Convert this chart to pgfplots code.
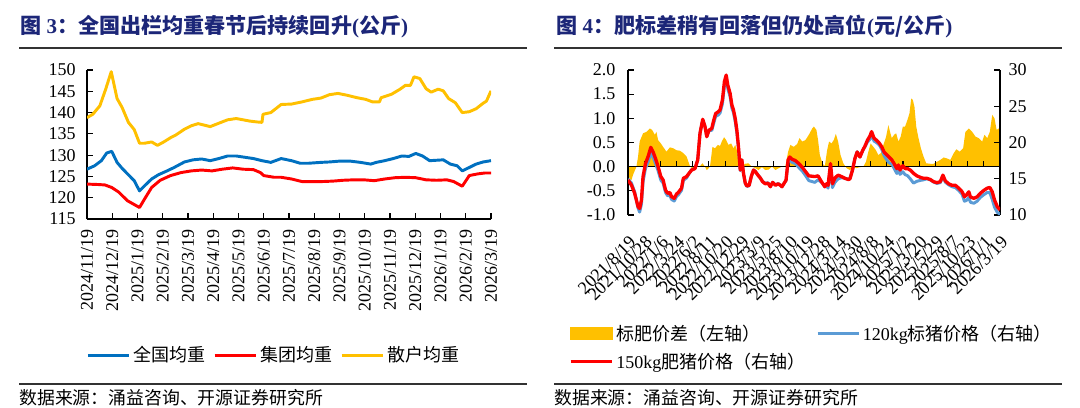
\documentclass[border=0pt]{standalone}
\usepackage{fontspec}
\setmainfont{Liberation Serif}
\newfontfamily\cjk{Noto Sans CJK SC}
\usepackage{pgfplots}
\usepackage{pgfplotstable}
\pgfplotsset{compat=1.18}
\definecolor{ttl}{RGB}{28,38,120}
\definecolor{cblue}{RGB}{0,112,192}
\definecolor{cred}{RGB}{255,0,0}
\definecolor{cyel}{RGB}{255,192,0}
\definecolor{lblue}{RGB}{91,155,213}
\definecolor{rulec}{RGB}{50,50,50}

% ---------- left chart data (x in months from 2024/11/19) ----------
\pgfplotstableread{
x y
0 138.8
0.23 139.6
0.51 141.6
0.74 145.5
0.96 149.6
1.19 143.3
1.39 141.2
1.64 137.7
1.87 136.0
2.08 132.8
2.28 132.8
2.56 133.1
2.79 132.3
3.04 133.1
3.31 134.1
3.51 134.7
3.86 136.1
4.13 136.9
4.40 137.4
4.68 137.0
4.88 136.7
5.22 137.5
5.57 138.3
5.91 138.6
6.18 138.3
6.45 138.0
6.73 137.8
6.93 137.7
6.97 139.6
7.28 140.0
7.69 141.9
8.10 142.0
8.51 142.5
8.92 143.1
9.26 143.4
9.60 144.2
9.94 144.5
10.28 144.1
10.69 143.5
11.04 143.1
11.31 142.5
11.58 142.5
11.65 143.5
12.06 144.3
12.40 145.5
12.61 146.4
12.81 146.4
12.95 148.4
13.18 148.0
13.43 145.6
13.63 144.8
13.91 145.5
14.11 145.1
14.32 143.3
14.59 142.3
14.86 140.0
15.14 140.2
15.41 140.9
15.69 142.2
15.82 142.7
16 145.1
}\sanhu
\pgfplotstableread{
x y
0 126.7
0.30 127.5
0.57 128.7
0.78 130.5
0.98 130.9
1.19 128.3
1.39 126.9
1.67 125.2
1.87 124.0
2.08 121.6
2.28 122.8
2.56 124.4
2.83 125.4
3.17 126.3
3.45 127.1
3.86 128.4
4.20 128.9
4.54 129.1
4.88 128.7
5.22 129.2
5.57 129.8
5.91 129.8
6.25 129.5
6.59 129.2
6.93 128.7
7.28 128.3
7.69 129.2
8.10 128.7
8.44 128.1
8.78 128.1
9.26 128.3
9.60 128.4
10.01 128.6
10.42 128.6
10.83 128.3
11.24 127.9
11.45 128.3
11.79 128.7
12.13 129.2
12.47 129.8
12.75 129.7
13.02 130.4
13.29 129.8
13.57 128.7
13.84 128.8
14.11 128.9
14.39 127.9
14.66 127.5
14.86 126.3
15.14 127.1
15.41 127.9
15.69 128.4
16 128.7
}\quanguo
\pgfplotstableread{
x y
0 123.2
0.44 123.1
0.71 123.0
0.98 122.4
1.26 121.3
1.60 119.3
1.87 118.4
2.08 117.7
2.28 119.7
2.56 122.4
2.90 124.1
3.31 125.2
3.72 125.9
4.13 126.3
4.54 126.5
4.95 126.3
5.36 126.7
5.77 127.0
6.18 126.7
6.59 126.6
6.87 125.9
7.00 125.2
7.41 124.8
7.69 124.8
8.10 124.4
8.51 123.8
8.92 123.8
9.33 123.8
9.74 123.9
10.15 124.1
10.56 124.2
10.97 124.2
11.38 124.0
11.79 124.4
12.20 124.7
12.61 124.8
13.02 124.7
13.43 124.2
13.84 124.1
14.25 124.2
14.52 123.8
14.86 122.7
15.14 125.2
15.48 125.6
15.75 125.8
16 125.8
}\jituan

% ---------- right chart data (x in tick intervals from 2021/8/19) ----------
\pgfplotstableread{
x d
0 -0.12
0.1 -0.25
0.21 -0.28
0.31 -0.17
0.52 0.0
0.62 0.2
0.72 0.52
0.93 0.69
1.14 0.72
1.35 0.79
1.49 0.76
1.66 0.66
1.76 0.72
1.86 0.55
2.03 0.48
2.17 0.41
2.38 0.31
2.59 0.40
2.80 0.38
3.0 0.34
3.21 0.33
3.42 0.28
3.62 0.21
3.83 0.01
4.04 -0.07
4.24 0.0
4.45 0.01
4.60 0.07
4.76 0.0
4.87 -0.07
5.07 0.0
5.22 0.41
5.38 0.38
5.55 0.45
5.69 0.43
5.80 0.52
5.94 0.61
6.07 0.55
6.21 0.45
6.38 0.48
6.52 0.38
6.63 0.45
6.73 0.34
6.87 0.14
7.04 0.01
7.25 0.06
7.45 0.07
7.66 0.0
7.87 -0.03
8.07 -0.07
8.28 -0.01
8.49 -0.07
8.70 -0.06
8.90 0.0
9.11 -0.07
9.32 -0.03
9.52 0.0
9.73 0.01
9.90 0.31
10.04 0.45
10.25 0.41
10.46 0.47
10.60 0.59
10.77 0.52
10.97 0.55
11.18 0.66
11.39 0.79
11.49 0.83
11.65 0.76
11.75 0.55
11.86 0.24
12.02 0.07
12.17 0.01
12.31 0.34
12.43 0.52
12.58 0.48
12.72 0.55
12.85 0.68
12.99 0.52
13.14 0.24
13.31 0.07
13.51 -0.03
13.72 -0.07
13.93 -0.01
14.13 -0.03
14.34 -0.01
14.55 0.0
14.71 0.1
14.86 0.31
15.0 0.48
15.17 0.41
15.33 0.34
15.48 0.24
15.63 0.28
15.79 0.45
15.95 0.61
16.10 0.86
16.20 0.72
16.31 0.59
16.45 0.66
16.58 0.69
16.72 0.52
16.86 0.62
16.99 0.83
17.13 0.83
17.28 0.97
17.40 1.1
17.51 1.41
17.61 1.38
17.71 1.24
17.82 0.83
17.96 0.59
18.11 0.38
18.27 0.21
18.44 0.07
18.69 0.06
18.89 0.06
19.10 0.1
19.31 0.14
19.52 0.19
19.72 0.17
19.93 0.14
20.14 0.28
20.30 0.36
20.51 0.31
20.72 0.38
20.86 0.72
21.07 0.79
21.28 0.72
21.49 0.62
21.69 0.59
21.90 0.52
22.04 0.66
22.21 0.59
22.37 0.72
22.52 1.07
22.66 1.0
22.79 0.76
22.93 0.79
23.0 0.62
}\diff
\pgfplotstableread{
x r b
0 14.83 14.95
0.21 14.14 14.42
0.41 13.0 13.2
0.62 11.15 10.95
0.72 10.9 10.4
0.83 12.07 11.47
0.93 15.3 14.6
1.08 17.1 16.4
1.24 18.05 17.3
1.41 19.33 18.55
1.55 18.7 17.98
1.70 17.8 17.1
1.86 16.67 16.1
2.03 15.3 14.8
2.17 14.83 14.4
2.32 13.45 13.1
2.44 13.0 12.67
2.59 13.1 12.7
2.69 12.53 12.14
2.86 12.3 11.93
3.00 12.9 12.56
3.11 13.1 12.77
3.31 13.7 13.4
3.42 15.06 14.78
3.62 15.3 15.1
3.77 15.75 15.68
3.93 16.2 16.23
4.14 16.4 16.43
4.31 17.6 17.6
4.45 21.26 21.25
4.62 23.2 23.13
4.76 22.2 22.2
4.87 20.8 20.87
5.01 21.7 21.7
5.18 21.95 21.65
5.28 22.9 22.5
5.42 24.0 23.6
5.59 24.25 23.8
5.69 24.5 24.07
5.84 25.9 25.35
5.96 28.4 27.79
6.07 29.3 28.75
6.17 27.9 27.43
6.31 26.8 26.34
6.42 25.2 24.75
6.52 24.5 24.12
6.63 23.3 22.85
6.73 21.7 21.36
6.83 19.4 19.2
6.94 16.2 16.12
7.04 17.6 17.59
7.14 15.75 15.72
7.25 14.4 14.34
7.35 14.0 13.94
7.49 14.1 14.03
7.62 15.3 15.28
7.76 16.2 16.22
7.87 16.0 16.03
8.03 15.5 15.56
8.18 15.1 15.13
8.32 14.6 14.63
8.49 14.3 14.37
8.65 14.4 14.46
8.80 13.9 13.92
8.94 14.5 14.5
9.11 14.1 14.17
9.28 14.3 14.34
9.42 14.1 14.12
9.52 13.9 13.9
9.63 14.3 14.3
9.77 14.8 14.75
9.90 17.6 17.29
10.0 18.0 17.58
10.14 17.7 17.26
10.35 17.5 17.09
10.56 17.1 16.55
10.77 16.6 16.08
10.97 16.0 15.45
11.18 15.4 14.74
11.55 15.3 14.5
11.75 15.4 14.85
11.96 14.6 14.5
12.17 13.9 13.89
12.27 14.3 14.1
12.37 14.1 13.7
12.52 17.1 16.6
12.64 14.3 13.78
12.79 15.1 14.5
12.99 15.5 14.98
13.20 15.3 15.15
13.41 15.06 15.06
13.62 14.9 14.95
13.72 14.97 15.04
13.88 16.2 16.22
14.03 17.8 17.82
14.17 18.7 18.73
14.34 18.0 18.01
14.51 18.9 18.9
14.65 19.5 19.42
14.80 20.3 20.05
14.96 20.9 20.45
15.06 21.5 21.03
15.21 20.6 20.2
15.37 20.3 19.98
15.54 19.9 19.65
15.69 19.4 19.05
15.83 18.7 18.2
16.0 18.3 17.6
16.14 18.0 17.2
16.31 17.6 17.01
16.45 17.1 16.44
16.62 16.4 15.72
16.72 16.9 16.38
16.82 16.2 15.6
16.99 16.8 15.97
17.13 16.4 15.57
17.28 16.4 15.43
17.45 16.2 15.0
17.65 15.75 14.4
17.86 15.4 14.65
18.07 15.2 14.77
18.27 15.06 14.85
18.48 15.06 14.99
18.69 14.9 14.84
18.89 14.6 14.54
19.10 14.46 14.36
19.31 14.6 14.46
19.47 15.5 15.32
19.62 14.7 14.52
19.83 14.3 14.15
20.03 14.1 13.9
20.24 14.1 13.78
20.45 13.7 13.37
20.66 13.2 12.84
20.80 12.5 11.9
20.92 12.75 12.0
21.07 13.2 12.41
21.17 12.5 11.75
21.38 12.3 11.62
21.58 12.5 11.89
21.79 13.0 12.44
22.0 13.4 12.8
22.21 13.7 13.11
22.37 13.8 13.08
22.52 13.2 12.13
22.66 12.07 11.07
22.83 11.15 10.38
23.0 10.7 10.08
}\prices

\pgfplotsset{
  base/.style={
    scale only axis,
    anchor=south west,
    axis line style={line width=0.9pt,black},
    tick style={line width=0.8pt,black},
    tick align=inside,
    major tick length=4.5pt,
    tick label style={font=\fontsize{13.5}{13.5}\selectfont},
    legend cell align=left,
  },
}

\begin{document}
\begin{tikzpicture}[x=0.75pt,y=0.75pt]
\path[use as bounding box] (0,0) rectangle (1080,407);

% ======== titles, rules, sources ========
\node[anchor=west,text=ttl,inner sep=0pt,font=\bfseries\fontsize{15.8}{18}\selectfont] at (20,407-27)
  {{\cjk 图} 3{\cjk ：全国出栏均重春节后持续回升}({\cjk 公斤})};
\node[anchor=west,text=ttl,inner sep=0pt,font=\bfseries\fontsize{15.8}{18}\selectfont] at (556,407-27)
  {{\cjk 图} 4{\cjk ：肥标差稍有回落但仍处高位}(\cjk 元/公斤\rmfamily)};
\draw[rulec,line width=1pt] (19,407-48) -- (527,407-48);
\draw[rulec,line width=1pt] (554,407-48) -- (1062,407-48);
\draw[rulec,line width=1pt] (19,407-384) -- (527,407-384);
\draw[rulec,line width=1pt] (554,407-384) -- (1062,407-384);
\node[anchor=west,inner sep=0pt,font=\cjk\fontsize{13.4}{13.4}\selectfont] at (19,407-398) {数据来源：涌益咨询、开源证券研究所};
\node[anchor=west,inner sep=0pt,font=\cjk\fontsize{13.4}{13.4}\selectfont] at (554,407-398) {数据来源：涌益咨询、开源证券研究所};

% ======== left chart ========
\begin{axis}[base,
  at={(65.25pt,141pt)}, width=303pt, height=111.75pt,
  xmin=0, xmax=16, ymin=115, ymax=150,
  axis x line*=bottom, axis y line*=left,
  xtick={0,...,16},
  xticklabels={2024/11/19,2024/12/19,2025/1/19,2025/2/19,2025/3/19,2025/4/19,2025/5/19,2025/6/19,2025/7/19,2025/8/19,2025/9/19,2025/10/19,2025/11/19,2025/12/19,2026/1/19,2026/2/19,2026/3/19},
  xticklabel style={rotate=90,anchor=east,xshift=-4pt},
  ytick={115,120,...,150},
  yticklabel style={xshift=-5pt},
  /pgf/number format/assume math mode=true,
  legend columns=3,
  legend style={at={(0.463,-0.913)},anchor=center,draw=none,fill=none,
    font=\cjk\fontsize{13.5}{15}\selectfont,
    /tikz/every even column/.append style={column sep=4pt}},
  legend image code/.code={\draw[#1] (0pt,0pt) -- (31pt,0pt);},
]
\addplot[cblue,line width=2.2pt,line join=round] table[x=x,y=y] {\quanguo};
\addlegendentry{全国均重}
\addplot[cred,line width=2.2pt,line join=round] table[x=x,y=y] {\jituan};
\addlegendentry{集团均重}
\addplot[cyel,line width=2.2pt,line join=round] table[x=x,y=y] {\sanhu};
\addlegendentry{散户均重}
\end{axis}

% ======== right chart, left axis (spread bars) ========
\begin{axis}[base,
  at={(471pt,144pt)}, width=279pt, height=108.75pt,
  xmin=0, xmax=23, ymin=-1, ymax=2,
  axis y line*=left, axis x line*=middle,
  hide obscured x ticks=false,
  axis on top,
  xtick={0,...,23},
  xticklabels={2021/8/19,2021/10/28,2022/1/6,2022/3/24,2022/6/2,2022/8/11,2022/10/20,2022/12/29,2023/3/9,2023/5/25,2023/8/10,2023/10/19,2023/12/28,2024/3/14,2024/5/30,2024/8/8,2024/10/24,2025/1/2,2025/3/20,2025/5/29,2025/8/7,2025/10/23,2026/1/1,2026/3/19},
  xticklabel style={yshift=-52pt,xshift=6pt,rotate=45,anchor=east},
  ytick={-1,-0.5,0,0.5,1,1.5,2},
  yticklabels={-1.0,-0.5,0.0,0.5,1.0,1.5,2.0},
  yticklabel style={xshift=-6pt},
]
\addplot[fill=cyel,draw=none] table[x=x,y=d] {\diff} \closedcycle;
\end{axis}

% ======== right chart, right axis (prices) ========
\begin{axis}[base,
  at={(471pt,144pt)}, width=279pt, height=108.75pt,
  xmin=0, xmax=23, ymin=10, ymax=30,
  axis y line*=right, axis x line=none,
  ytick={10,15,20,25,30},
  yticklabel style={xshift=3pt},
  /pgf/number format/assume math mode=true,
  legend columns=2,
  legend style={at={(-0.17,-0.72)},anchor=north west,draw=none,fill=none,
    font=\cjk\fontsize{13.5}{15}\selectfont,
    /tikz/every even column/.append style={column sep=6pt},
    row sep=4pt},
  legend image code/.code={\draw[#1] (0pt,0pt) -- (31pt,0pt);},
]
\addlegendimage{legend image code/.code={\fill[cyel] (0pt,-4.5pt) rectangle (31pt,4.5pt);}}
\addlegendentry{标肥价差（左轴）}
\addplot[lblue,line width=2.2pt,line join=round] table[x=x,y=b] {\prices};
\addlegendentry{{\rmfamily 120kg}标猪价格（右轴）}
\addplot[cred,line width=2.5pt,line join=round] table[x=x,y=r] {\prices};
\addlegendentry{{\rmfamily 150kg}肥猪价格（右轴）}
\end{axis}
\end{tikzpicture}
\end{document}
